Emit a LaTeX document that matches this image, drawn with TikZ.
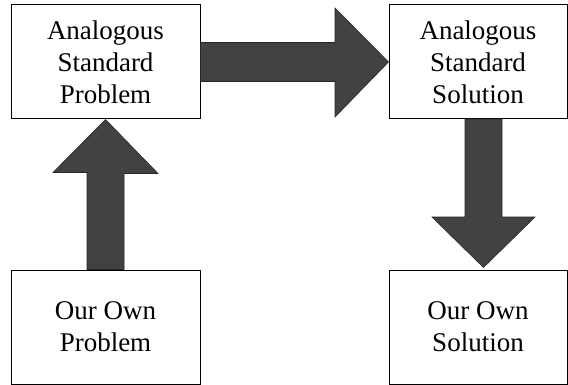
\documentclass[tikz,border=0pt]{standalone}
\usepackage{fontspec}
\setmainfont{Liberation Serif}
\usetikzlibrary{calc}
\begin{document}
\begin{tikzpicture}[x=1pt,y=-1pt,
  stepbox/.style={draw=black,line width=1pt,fill=white,inner sep=0pt,
    align=center,font=\fontsize{27}{32}\selectfont},
  blockarrow/.style={fill=black!74,draw=black!85,line width=0.6pt}]
\useasboundingbox (0,0) rectangle (568,385);
% the four boxes
\node[stepbox,minimum width=189pt,minimum height=114pt] (asp) at (105.5,62) {Analogous\\Standard\\Problem};
\node[stepbox,minimum width=178pt,minimum height=114pt] (ass) at (478,62) {Analogous\\Standard\\Solution};
\node[stepbox,minimum width=189pt,minimum height=114pt] (oop) at (105.5,327) {Our Own\\Problem};
\node[stepbox,minimum width=178pt,minimum height=114pt] (oos) at (478,327) {Our Own\\Solution};
% problem -> standard problem (upward block arrow)
\fill[blockarrow] ($(oop.north)+(-18.5,0)$) -- ++(0,-97) -- ++(-34,0)
  -- (asp.south) -- ($(asp.south)+(52.5,54)$) -- ++(-34,0) -- ($(oop.north)+(18.5,0)$) -- cycle;
% standard problem -> standard solution (rightward block arrow)
\fill[blockarrow] ($(asp.east)+(0,-19.5)$) -- (335,42.5) -- (335,8) -- (ass.west)
  -- (335,117) -- (335,81.5) -- ($(asp.east)+(0,19.5)$) -- cycle;
% standard solution -> own solution (downward block arrow)
\fill[blockarrow] (465,119) -- (465,217) -- (432,217) -- (483.5,267.5)
  -- (535,217) -- (502,217) -- (502,119) -- cycle;
\end{tikzpicture}
\end{document}
